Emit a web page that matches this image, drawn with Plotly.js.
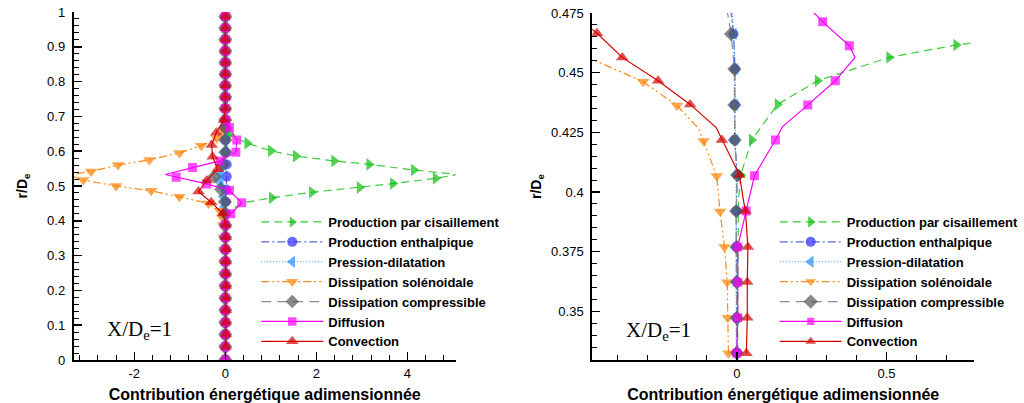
<!DOCTYPE html>
<html>
<head>
<meta charset="utf-8">
<script src="https://cdn.plot.ly/plotly-3.0.1.min.js"></script>
<style>html,body{margin:0;padding:0;background:#fff;}#chart{width:1024px;height:403px;}</style>
</head>
<body>
<div id="chart"></div>
<script>
// ---------- Series names ----------
const seriesNames = ["Production par cisaillement", "Production enthalpique", "Pression-dilatation",
  "Dissipation solénoidale", "Dissipation compressible", "Diffusion", "Convection"];

// ---------- Left panel (full profile) ----------
const L_cis_y = [0,0.038,0.073,0.108,0.143,0.178,0.213,0.248,0.283,0.318,0.353,0.388,0.41,0.43,0.452,0.466,0.482,0.496,0.507,0.522,0.533,0.546,0.562,0.572,0.586,0.601,0.623,0.647,0.67,0.69,0.723,0.756,0.789,0.822,0.855,0.888,0.921,0.954,0.987,1.0];
const L_cis_x = [0,0,0,0,0,0,0,0,0,0,0,0,0.03,0.1,0.4,1.02,1.9,2.95,3.68,4.62,5.1,4.14,3.16,2.39,1.55,1.0,0.48,0.09,0.02,0,0,0,0,0,0,0,0,0,0,0];

const L_ent_y = [0,0.038,0.073,0.108,0.143,0.178,0.213,0.248,0.283,0.318,0.353,0.388,0.421,0.455,0.49,0.527,0.562,0.597,0.632,0.667,0.69,0.723,0.756,0.789,0.822,0.855,0.888,0.921,0.954,0.987];
const L_ent_x = [0,0,0,0,0,0,0,0,0,0,0,0,0,0.01,0.02,0.03,0.03,0.01,0,0,0,0,0,0,0,0,0,0,0,0];

const L_pre_y = [0,0.038,0.073,0.108,0.143,0.178,0.213,0.248,0.283,0.318,0.353,0.388,0.41,0.44,0.47,0.5,0.517,0.535,0.56,0.6,0.64,0.69,0.723,0.756,0.789,0.822,0.855,0.888,0.921,0.954,0.987];
const L_pre_x = [0,0,0,0,0,0,0,0,0,0,0,0,0,-0.02,-0.05,-0.1,-0.13,-0.1,-0.04,0,0,0,0,0,0,0,0,0,0,0,0];

const L_sol_y = [0,0.038,0.073,0.108,0.143,0.178,0.213,0.248,0.283,0.318,0.353,0.388,0.41,0.429,0.45,0.469,0.486,0.5,0.517,0.532,0.542,0.56,0.575,0.595,0.616,0.637,0.66,0.69,0.723,0.756,0.789,0.822,0.855,0.888,0.921,0.954,0.987];
const L_sol_x = [-0.01,-0.01,-0.01,-0.01,-0.01,-0.015,-0.015,-0.02,-0.02,-0.025,-0.03,-0.05,-0.07,-0.12,-0.37,-1.01,-1.63,-2.4,-3.12,-3.45,-2.95,-2.36,-1.67,-1.01,-0.53,-0.19,-0.05,-0.01,0,0,0,0,0,0,0,0,0];

const L_com_y = [0,0.038,0.073,0.108,0.143,0.178,0.213,0.248,0.283,0.318,0.353,0.388,0.421,0.455,0.49,0.51,0.527,0.545,0.562,0.597,0.632,0.667,0.69,0.723,0.756,0.789,0.822,0.855,0.888,0.921,0.954,0.987];
const L_com_x = [0,0,0,0,0,0,0,0,0,0,0,0,0,-0.01,-0.09,-0.2,-0.24,-0.15,-0.05,0,0,0,0,0,0,0,0,0,0,0,0,0];

const L_dif_y = [0,0.038,0.073,0.108,0.143,0.178,0.213,0.248,0.283,0.318,0.353,0.388,0.4,0.42,0.452,0.487,0.506,0.525,0.533,0.553,0.572,0.597,0.632,0.668,0.69,0.723,0.756,0.789,0.822,0.855,0.888,0.921,0.954,0.987];
const L_dif_x = [0,0,0,0,0,0,0,0,0,0,0,0,0.03,0.12,0.36,0.09,-0.41,-1.08,-1.32,-0.72,-0.12,0.23,0.25,0.09,0.01,0,0,0,0,0,0,0,0,0];

const L_con_y = [0.038,0.073,0.108,0.143,0.178,0.213,0.248,0.283,0.318,0.353,0.388,0.421,0.453,0.484,0.516,0.548,0.584,0.618,0.653,0.69,0.723,0.756,0.789,0.822,0.855,0.888,0.921,0.954,0.987];
const L_con_x = [0.01,0.01,0.01,0.01,0.01,0.01,0.01,0.01,0.01,0.01,0.01,-0.05,-0.31,-0.59,-0.41,-0.17,-0.28,-0.3,-0.2,-0.03,0,0,0,0,0,0,0,0,0];

// ---------- Right panel (zoom) ----------
const R_cis_y = [0.3326,0.3472,0.3623,0.377,0.392,0.3974,0.4071,0.4218,0.4367,0.4466,0.4564,0.4616,0.466];
const R_cis_x = [0.003,0.003,0.003,0.004,0.005,0.006,0.013,0.05,0.136,0.27,0.509,0.733,1.02];

const R_ent_y = [0.3326,0.3472,0.3623,0.377,0.392,0.4071,0.4218,0.4365,0.4515,0.4662,0.478];
const R_ent_x = [0,0,0,-0.001,-0.002,0.002,-0.007,-0.007,-0.006,-0.011,-0.022];

const R_pre_y = [0.3326,0.3472,0.3623,0.377,0.392,0.4071,0.4218,0.4365,0.4515,0.4662,0.478];
const R_pre_x = [-0.002,-0.002,-0.002,-0.003,-0.003,-0.002,-0.005,-0.006,-0.006,-0.01,-0.018];

const R_sol_y = [0.3324,0.3473,0.3622,0.377,0.3918,0.4067,0.4214,0.4267,0.4362,0.4462,0.4556,0.462];
const R_sol_x = [-0.028,-0.03,-0.032,-0.041,-0.056,-0.067,-0.111,-0.128,-0.2,-0.313,-0.483,-0.75];

const R_com_y = [0.3326,0.3472,0.3623,0.377,0.392,0.4071,0.4218,0.4365,0.4515,0.4662,0.478];
const R_com_x = [0,0,0,-0.001,-0.002,0.001,-0.007,-0.008,-0.008,-0.019,-0.035];

const R_dif_y = [0.3324,0.3473,0.3622,0.377,0.392,0.3966,0.4068,0.4218,0.4274,0.4364,0.4466,0.4564,0.4613,0.4713,0.48];
const R_dif_x = [0,0.003,0.003,0.003,0.031,0.039,0.059,0.129,0.153,0.237,0.329,0.395,0.376,0.287,0.22];

const R_con_y = [0.3324,0.3473,0.3623,0.377,0.392,0.3966,0.4071,0.4218,0.427,0.4367,0.4466,0.4564,0.4665,0.475];
const R_con_x = [0.032,0.035,0.035,0.037,0.029,0.022,0.009,-0.05,-0.069,-0.156,-0.263,-0.383,-0.467,-0.55];

// ---------- Tick labels ----------
const L_xTickVals = [-2, 0, 2, 4];
const L_xTickText = ["-2", "0", "2", "4"];
const R_xTickVals = [0, 0.5];
const R_xTickText = ["0", "0.5"];

// ---------- Styles (not data) ----------
const styles = [
  {line:'#3ccc3c', mk:'#08bf08', dash:'8px,5px', sym:'triangle-right', size:11},
  {line:'#5b6be0', mk:'#2a2aff', dash:'8px,3px,2px,3px', sym:'circle', size:10},
  {line:'#1f8fff', mk:'#1f8fff', dash:'1px,2px', sym:'triangle-left', size:11},
  {line:'#ff8a1e', mk:'#ff8000', dash:'8px,3px,2px,3px,2px,3px', sym:'triangle-down', size:11},
  {line:'#8c8c8c', mk:'#555555', dash:'10px,6px', sym:'diamond', size:11},
  {line:'#ff00ff', mk:'#ff00ff', dash:'solid', sym:'square', size:9},
  {line:'#d40000', mk:'#d40000', dash:'solid', sym:'triangle-up', size:11}
];
// points drawn without a marker symbol (line vertices only)
const hiddenL = [[0.41,0.43,0.452,0.533,0.67],[],[],[0.532],[0.51,0.545],[0.4,0.533],[]];
const hiddenR = [[0.3974],[],[],[0.4267,0.4556],[],[0.3966,0.4274,0.4564],[0.3966,0.427]];

const leftData = [[L_cis_x,L_cis_y],[L_ent_x,L_ent_y],[L_pre_x,L_pre_y],[L_sol_x,L_sol_y],[L_com_x,L_com_y],[L_dif_x,L_dif_y],[L_con_x,L_con_y]];
const rightData = [[R_cis_x,R_cis_y],[R_ent_x,R_ent_y],[R_pre_x,R_pre_y],[R_sol_x,R_sol_y],[R_com_x,R_com_y],[R_dif_x,R_dif_y],[R_con_x,R_con_y]];

function makeTrace(i, d, xa, ya, leg, hidden) {
  const s = styles[i];
  return {
    type:'scatter', mode:'lines+markers', name: seriesNames[i],
    x: d[0], y: d[1], xaxis: xa, yaxis: ya, legend: leg,
    line: {color: s.line, width: 1.2, dash: s.dash},
    marker: {symbol: s.sym, color: s.mk, size: d[1].map(v => hidden.includes(v) ? 0 : s.size), line:{width:0}},
    cliponaxis: true, hoverinfo: 'x+y+name'
  };
}

const traces = [];
leftData.forEach((d,i) => traces.push(makeTrace(i, d, 'x', 'y', 'legend', hiddenL[i])));
rightData.forEach((d,i) => traces.push(makeTrace(i, d, 'x2', 'y2', 'legend2', hiddenR[i])));

const FONT = 'Liberation Sans, Arial, Helvetica, sans-serif';
const tickFont = {family: FONT, size: 13, color: '#000'};
const titleFont = {family: FONT, size: 16, weight: 'bold', color: '#000'};
const yTitleFont = {family: FONT, size: 14, weight: 'bold', color: '#000'};

function axisBase() {
  return {showline:true, linewidth:2, linecolor:'#000', showgrid:false, zeroline:false,
    ticks:'inside', ticklen:8, tickwidth:1.5, tickcolor:'#000', tickfont: tickFont,
    ticklabelstandoff: 4, fixedrange:true};
}

const layout = {
  width:1024, height:403, margin:{l:0, r:0, t:0, b:0},
  paper_bgcolor:'#fff', plot_bgcolor:'#fff', showlegend:true,
  xaxis: Object.assign(axisBase(), {
    domain:[74/1024, 457/1024], anchor:'y', range:[-3.33, 5.06],
    tickmode:'array', tickvals:L_xTickVals, ticktext:L_xTickText, ticklabelstandoff: 0,
    minor:{tickmode:'linear', tick0:0, dtick:0.4, ticks:'inside', ticklen:5, tickwidth:1, tickcolor:'#000'},
    title:{text:'Contribution énergétique adimensionnée', font: titleFont, standoff: 12}
  }),
  yaxis: Object.assign(axisBase(), {
    domain:[43/403, 391/403], anchor:'x', range:[0, 1], tick0:0, dtick:0.1,
    minor:{tick0:0, dtick:0.02, ticks:'inside', ticklen:5, tickwidth:1, tickcolor:'#000'},
    title:{text:'r/D<sub>e</sub>', font: yTitleFont, standoff: 16}
  }),
  xaxis2: Object.assign(axisBase(), {
    domain:[594/1024, 977/1024], anchor:'y2', range:[-0.483, 0.793],
    tickmode:'array', tickvals:R_xTickVals, ticktext:R_xTickText, ticklabelstandoff: 0,
    minor:{tickmode:'linear', tick0:0, dtick:0.1, ticks:'inside', ticklen:5, tickwidth:1, tickcolor:'#000'},
    title:{text:'Contribution énergétique adimensionnée', font: titleFont, standoff: 12}
  }),
  yaxis2: Object.assign(axisBase(), {
    domain:[43/403, 390/403], anchor:'x2', range:[0.3296, 0.475], tick0:0, dtick:0.025,
    minor:{tick0:0, dtick:0.005, ticks:'inside', ticklen:5, tickwidth:1, tickcolor:'#000'},
    title:{text:'r/D<sub>e</sub>', font: yTitleFont, standoff: 6}
  }),
  legend: {x:257/1024, xanchor:'left', y:(403-207)/403, yanchor:'top', bgcolor:'rgba(0,0,0,0)',
    borderwidth:0, itemwidth:62, tracegroupgap:0,
    font:{family:FONT, size:13, weight:'bold', color:'#000'}},
  legend2: {x:777/1024, xanchor:'left', y:(403-207)/403, yanchor:'top', bgcolor:'rgba(0,0,0,0)',
    borderwidth:0, itemwidth:62, tracegroupgap:0,
    font:{family:FONT, size:13, weight:'bold', color:'#000'}},
  annotations: [
    {xref:'x domain', yref:'y domain', x:0.083, y:0.085, xanchor:'left', yanchor:'middle',
     text:'X/D<sub>e</sub>=1', showarrow:false, font:{family:'Liberation Serif, Times New Roman, serif', size:21, color:'#000'}},
    {xref:'x2 domain', yref:'y2 domain', x:0.083, y:0.085, xanchor:'left', yanchor:'middle',
     text:'X/D<sub>e</sub>=1', showarrow:false, font:{family:'Liberation Serif, Times New Roman, serif', size:21, color:'#000'}}
  ]
};

Plotly.newPlot('chart', traces, layout, {displayModeBar:false, staticPlot:true});
</script>
</body>
</html>
